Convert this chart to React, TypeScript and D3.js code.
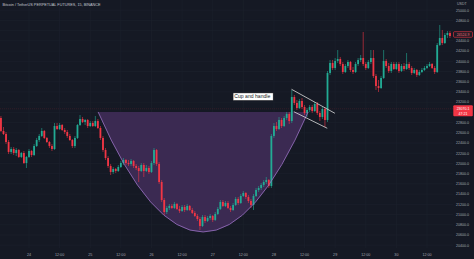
import React from "react";
import * as d3 from "d3";

// ---- data (BTCUSDT perpetual, hourly-looking candles) ----
const firstCandleHour = -11; // hours relative to day "24" 00:00
const firstOpen = 22890;
const closes = [
  22636, 22577, 22420, 22225, 22283, 22205, 22264, 22127, 22205, 22009, 22127,
  22244, 22166, 22342, 22459, 22538, 22636, 22499, 22420, 22342, 22283,
  22733, 22675, 22753, 22655, 22616, 22538, 22459, 22342, 22499, 22753,
  22870, 22812, 22851, 22733, 22792, 22733, 22831, 22694, 22499, 22264,
  22107, 21951, 21833, 21892, 21853, 21931, 22009, 22068, 22009, 21990,
  22049, 21951, 21911, 21853, 21970, 21853, 21911, 21833, 22009, 22264,
  21990, 21637, 21285, 21050, 21129, 21168, 21129, 21207, 21109, 21070,
  21148, 21089, 21168, 21089, 21031, 20972, 20913, 20776, 20952, 20874,
  20933, 20972, 20894, 21011, 21109, 21246, 21168, 21226, 21129, 21089,
  21187, 21305, 21226, 21363, 21422, 21344, 21265, 21187, 21363, 21481,
  21520, 21579, 21637, 21676, 21559, 22538, 22733, 22675, 22851, 22733,
  22890, 22968, 22831, 23301, 23184, 23086, 23223, 23105, 22988, 23047,
  23105, 23027, 23164, 22988, 22910, 23066, 22851, 23771, 23967, 23869,
  24006, 24045, 23947, 23790, 23908, 23986, 23830, 23790, 23947, 24025,
  24064, 23947, 23869, 23986, 24064, 23712, 23516, 23477, 23673, 24006,
  23908, 23810, 23947, 23849, 23947, 23810, 23908, 23849, 23947, 23869,
  23771, 23830, 23732, 23790, 23830, 23869, 23908, 23947, 23869, 23790,
  24319, 24456, 24358, 24515, 24554, 24495,
];
const highs = [
  22929, 22714, 22616, 22459, 22322, 22322, 22303, 22283, 22225, 22244, 22146,
  22283, 22264, 22381, 22499, 22577, 22694, 22655, 22518, 22440, 22381,
  22792, 22792, 22792, 22773, 22694, 22655, 22577, 22479, 22538, 22773,
  22949, 22910, 22870, 22870, 22831, 22831, 22929, 22870, 22733, 22538,
  22303, 22146, 21990, 21931, 21911, 21970, 22049, 22107, 22088, 22068,
  22088, 22068, 21990, 21951, 22009, 22009, 21970, 21951, 22049, 22303,
  22283, 22029, 21676, 21324, 21168, 21207, 21207, 21246, 21226, 21168,
  21187, 21187, 21207, 21187, 21129, 21070, 21011, 20952, 20991, 20991,
  20972, 21011, 20991, 21050, 21148, 21285, 21285, 21265, 21265, 21168,
  21226, 21344, 21344, 21402, 21461, 21442, 21383, 21305, 21402, 21520,
  21559, 21618, 21676, 21735, 21696, 22577, 22792, 22812, 22910, 22890,
  22929, 23008, 23008, 23438, 23340, 23242, 23262, 23281, 23144, 23086,
  23144, 23144, 23203, 23203, 23027, 23105, 23105, 23810, 24025, 24025,
  24064, 24221, 24084, 23986, 23947, 24025, 24006, 23888, 23986, 24064,
  24123, 24573, 23986, 24025, 24221, 24221, 23751, 23634, 23712, 24221,
  24045, 23967, 23986, 23986, 23986, 23986, 23947, 23967, 24162, 23986,
  23908, 23869, 23849, 23830, 23869, 23908, 23947, 23986, 23967, 23908,
  24358, 24710, 24612, 24554, 24593, 24593,
];
const lows = [
  22616, 22557, 22381, 22185, 22185, 22166, 22146, 22107, 22107, 21990, 21911,
  22107, 22127, 22146, 22322, 22420, 22518, 22479, 22401, 22303, 22244,
  22264, 22655, 22655, 22636, 22577, 22499, 22440, 22303, 22303, 22479,
  22733, 22792, 22753, 22694, 22714, 22714, 22714, 22675, 22459, 22225,
  22068, 21911, 21774, 21794, 21813, 21833, 21911, 21970, 21970, 21951,
  21951, 21911, 21872, 21637, 21833, 21735, 21833, 21794, 21813, 21970,
  21951, 21598, 21246, 20991, 21011, 21089, 21109, 21109, 21089, 21031,
  21050, 21050, 21070, 21070, 21011, 20952, 20874, 20698, 20757, 20835,
  20854, 20894, 20854, 20874, 20991, 21089, 21148, 21148, 21109, 21050,
  21070, 21168, 21187, 21207, 21344, 21305, 21226, 21129, 21089, 21344,
  21442, 21481, 21539, 21598, 21520, 21520, 22499, 22636, 22655, 22694,
  22714, 22851, 22773, 22792, 23144, 23047, 23066, 23066, 22949, 22910,
  23008, 22988, 23008, 22949, 22831, 22870, 22714, 22812, 23732, 23830,
  23830, 23967, 23908, 23751, 23771, 23869, 23790, 23751, 23771, 23908,
  23986, 23908, 23830, 23849, 23947, 23673, 23438, 23399, 23457, 23654,
  23869, 23771, 23771, 23830, 23830, 23771, 23790, 23810, 23830, 23830,
  23732, 23751, 23693, 23712, 23771, 23810, 23849, 23888, 23849, 23751,
  23771, 24299, 24319, 24338, 24456, 24456,
];

const priceTicks = [
  20400, 20600, 20800, 21000, 21200, 21400, 21600, 21800, 22000, 22200, 22400,
  22600, 22800, 23000, 23200, 23400, 23600, 23800, 24000, 24200, 24400, 24600,
  24800, 25000,
];
const timeTickLabels = [
  "24", "12:00", "25", "12:00", "26", "12:00", "27", "12:00",
  "28", "12:00", "29", "12:00", "30", "12:00",
];

// annotations (hours from day 24 00:00, prices)
const cupLeft = { h: 27.1, p: 23008 };
const cupRight = { h: 109.4, p: 23008 };
const cupBottomPrice = 20659;
const channelUpper = [{ h: 102.9, p: 23452 }, { h: 119.9, p: 22982 }];
const channelLower = [{ h: 103.8, p: 23013 }, { h: 116.9, p: 22689 }];
const labelAnchor = { h: 80, p: 23380, text: "Cup and handle" };
const lastPrice = 23070.1;
const countdown = "47:21";
const highLabelPrice = 24524.9;
const title = "Bitcoin / TetherUS PERPETUAL FUTURES, 15, BINANCE";

const W = 474;
const H = 259;
const PLOT_RIGHT = 453;
const BG = "#151924";
const GRID = "#1d212d";
const UP = "#22ab94";
const DOWN = "#f23645";
const TXT = "#a3a6af";
const FONT = "'Liberation Sans', Arial, sans-serif";

const base = new Date(2023, 0, 24, 0, 0, 0);
const atHour = (h: number) => new Date(base.getTime() + h * 3600000);

export default function App() {
  const x = d3.scaleTime().domain([base, atHour(156)]).range([29, 427]);
  const y = d3.scaleLinear().domain([20400, 25000]).range([245.2, 10.2]);

  const candles = closes.map((c, i) => ({
    t: atHour(firstCandleHour + i),
    o: i === 0 ? firstOpen : closes[i - 1],
    c,
    h: highs[i],
    l: lows[i],
  }));

  const timeTicks = d3.timeHour.every(12)!.range(base, atHour(157)).slice(0, timeTickLabels.length);

  const x0 = x(atHour(cupLeft.h));
  const x1 = x(atHour(cupRight.h));
  const yr = y(cupLeft.p);
  const yb = y(cupBottomPrice);
  const cupPath = `M${x0},${yr} Q${(x0 + x1) / 2},${2 * yb - yr} ${x1},${y(cupRight.p)}`;

  const lx = x(atHour(labelAnchor.h));
  const ly = y(labelAnchor.p);
  const lp = y(lastPrice);
  const hp = y(highLabelPrice);
  const bodyW = 1.8;

  // tick labels hidden under the price badges are not drawn
  const visibleTicks = priceTicks.filter(
    (p) => Math.abs(y(p) - (lp + 2)) > 6.5 && Math.abs(y(p) - hp) > 4
  );

  return (
    <svg
      width={W}
      height={H}
      style={{ position: "absolute", left: 0, top: 0, display: "block", background: BG }}
      fontFamily={FONT}
    >
      <rect x={0} y={0} width={W} height={H} fill={BG} />
      {/* grid */}
      <g>
        {priceTicks.map((p) => (
          <line key={"hg" + p} x1={0} x2={PLOT_RIGHT} y1={y(p)} y2={y(p)} stroke={GRID} strokeWidth={0.6} />
        ))}
        {timeTicks.map((t, i) => (
          <line key={"vg" + i} x1={x(t)} x2={x(t)} y1={0} y2={248} stroke={GRID} strokeWidth={0.6} />
        ))}
      </g>

      {/* cup fill */}
      <path d={cupPath + " Z"} fill="#3b2a52" stroke="none" />

      {/* candles */}
      <g>
        {candles.map((d, i) => {
          const up = d.c >= d.o;
          const col = up ? UP : DOWN;
          const cx = x(d.t);
          const top = y(Math.max(d.o, d.c));
          const bh = Math.max(0.7, Math.abs(y(d.o) - y(d.c)));
          return (
            <g key={i}>
              <line x1={cx} x2={cx} y1={y(d.h)} y2={y(d.l)} stroke={col} strokeWidth={0.6} />
              <rect x={cx - bodyW / 2} y={top} width={bodyW} height={bh} fill={col} />
            </g>
          );
        })}
      </g>

      {/* cup outline */}
      <path d={cupPath} fill="none" stroke="#9a72c4" strokeWidth={0.8} />

      {/* handle channel */}
      <line
        x1={x(atHour(channelUpper[0].h))} y1={y(channelUpper[0].p)}
        x2={x(atHour(channelUpper[1].h))} y2={y(channelUpper[1].p)}
        stroke="#dcdcdc" strokeWidth={0.8}
      />
      <line
        x1={x(atHour(channelLower[0].h))} y1={y(channelLower[0].p)}
        x2={x(atHour(channelLower[1].h))} y2={y(channelLower[1].p)}
        stroke="#dcdcdc" strokeWidth={0.8}
      />

      {/* last price line */}
      <line x1={0} x2={PLOT_RIGHT} y1={lp} y2={lp} stroke={DOWN} strokeOpacity={0.28} strokeWidth={0.5} strokeDasharray="1 1" />

      {/* label */}
      <rect x={lx} y={ly} width={40} height={7.4} fill="#ffffff" stroke="#222" strokeWidth={0.4} />
      <text x={lx + 1.2} y={ly + 5.4} fontSize={5.1} fill="#131722">{labelAnchor.text}</text>

      {/* title */}
      <text x={2.5} y={6.4} fontSize={3.8} fill="#c3c6ce">{title}</text>

      {/* price axis */}
      <rect x={PLOT_RIGHT} y={0} width={W - PLOT_RIGHT} height={H} fill={BG} />
      <text x={457} y={5.4} fontSize={3.6} fill={TXT}>USDT</text>
      {visibleTicks.map((p) => (
        <text key={"pl" + p} x={456} y={y(p) + 1.3} fontSize={3.6} fill={TXT}>
          {p.toFixed(1)}
        </text>
      ))}

      {/* outlined high label */}
      <rect x={453.5} y={hp - 2.8} width={19} height={5.6} rx={1} fill="#1d1a24" stroke={DOWN} strokeWidth={0.6} />
      <text x={463} y={hp + 1.3} fontSize={3.5} fill="#f5707a" textAnchor="middle">{highLabelPrice.toFixed(1)}</text>

      {/* last price label */}
      <rect x={453.3} y={lp - 3.5} width={19.5} height={11} rx={1} fill={DOWN} />
      <text x={463} y={lp + 1.2} fontSize={3.5} fill="#ffffff" textAnchor="middle">{lastPrice.toFixed(1)}</text>
      <text x={463} y={lp + 5.8} fontSize={3.5} fill="#ffffff" textAnchor="middle">{countdown}</text>

      {/* time axis */}
      {timeTicks.map((t, i) => (
        <text key={"tl" + i} x={x(t)} y={256} fontSize={3.7} fill={TXT} textAnchor="middle">
          {timeTickLabels[i]}
        </text>
      ))}
    </svg>
  );
}
